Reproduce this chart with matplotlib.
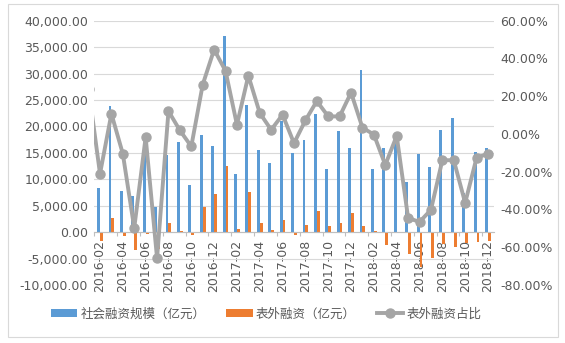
import numpy as np
import matplotlib
matplotlib.use("Agg")
import matplotlib.pyplot as plt
from matplotlib.patches import Rectangle
from matplotlib.ticker import FuncFormatter, FixedLocator

plt.rcParams['font.family'] = ['DejaVu Sans', 'Noto Sans CJK SC']

# 2016-01 only shows up as the clipped start of the ratio line
months = ["2016-01",
          "2016-02", "2016-03", "2016-04", "2016-05", "2016-06", "2016-07",
          "2016-08", "2016-09", "2016-10", "2016-11", "2016-12",
          "2017-01", "2017-02", "2017-03", "2017-04", "2017-05", "2017-06",
          "2017-07", "2017-08", "2017-09", "2017-10", "2017-11", "2017-12",
          "2018-01", "2018-02", "2018-03", "2018-04", "2018-05", "2018-06",
          "2018-07", "2018-08", "2018-09", "2018-10", "2018-11", "2018-12"]

tsf = [np.nan,
       8430, 23880, 7810, 6860, 16300, 4780,
       14610, 17070, 8940, 18390, 16310,
       37110, 11020, 24060, 15560, 13100, 21040,
       14930, 17450, 22360, 11970, 19150, 15940,
       30680, 11970, 15940, 16900, 9510, 14800,
       12340, 19340, 21610, 7370, 15120, 15940]

off_bs = [np.nan,
          -1590, 2700, -640, -3350, -280, -3150,
          1820, 300, -510, 4780, 7300,
          12590, 680, 7680, 1820, 490, 2380,
          -510, 1380, 4030, 1190, 1760, 3650,
          1190, 250, -2350, -170, -4050, -6600,
          -4800, -2200, -2720, -1970, -1780, -1590]

ratio = [24.0,
         -21.1, 10.7, -10.5, -49.8, -1.7, -65.8,
         12.1, 1.9, -6.6, 26.1, 44.7,
         33.4, 4.9, 30.9, 11.1, 2.2, 10.2,
         -4.9, 7.2, 17.4, 9.3, 9.3, 21.9,
         3.3, -0.3, -16.4, -1.0, -44.5, -46.6,
         -40.2, -13.9, -13.9, -36.5, -12.6, -10.5]

names = ["社会融资规模（亿元）", "表外融资（亿元）", "表外融资占比"]

BLUE = "#5B9BD5"
ORANGE = "#ED7D31"
GREY = "#A5A5A5"
TXT = "#595959"

fig = plt.figure(figsize=(5.65, 3.43), dpi=100)
fig.patches.append(Rectangle((0.0142, 0.0175), 0.9735, 0.9708, transform=fig.transFigure,
                             fill=False, edgecolor="#d9d9d9", linewidth=0.8))

ax = fig.add_axes([0.1669, 0.1691, 0.7069, 0.7706])
x = np.arange(len(months))
w = 0.25
b1 = ax.bar(x - w / 2, tsf, width=w, color=BLUE, zorder=2)
b2 = ax.bar(x + w / 2, off_bs, width=w, color=ORANGE, zorder=2)

ax.set_xlim(0.5, len(months) - 0.5)
ax.set_ylim(-10000, 40000)
ax.set_yticks(np.arange(-10000, 40001, 5000))
ax.yaxis.set_major_formatter(FuncFormatter(lambda v, p: f"{v:,.2f}"))
ax.grid(axis='y', color="#d9d9d9", linewidth=0.8, zorder=0)
ax.set_axisbelow(True)

for s in ["top", "right", "left"]:
    ax.spines[s].set_visible(False)
ax.spines["bottom"].set_position(("data", 0))
ax.spines["bottom"].set_color("#bfbfbf")
ax.spines["bottom"].set_linewidth(0.8)

ax.xaxis.set_major_locator(FixedLocator(x[1::2]))
ax.set_xticklabels(months[1::2], rotation=90)
ax.xaxis.set_minor_locator(FixedLocator(np.arange(0.5, len(months), 2)))
ax.tick_params(axis='x', which='major', length=0, pad=5.5, labelsize=9, labelcolor=TXT)
ax.tick_params(axis='x', which='minor', length=3, color="#bfbfbf", width=0.8)
ax.tick_params(axis='y', length=0, pad=4.5, labelsize=9, labelcolor=TXT)

ax2 = ax.twinx()
ln, = ax2.plot(x, ratio, color=GREY, linewidth=2.8, marker='o', markersize=6.5,
               zorder=3, solid_joinstyle='round')
ax2.set_ylim(-80, 60)
ax2.set_yticks(np.arange(-80, 61, 20))
ax2.yaxis.set_major_formatter(FuncFormatter(lambda v, p: f"{v:.2f}%"))
ax2.tick_params(axis='y', length=0, pad=4.5, labelsize=9, labelcolor=TXT)
for s in ax2.spines.values():
    s.set_visible(False)

fig.legend([b1, b2, ln], names, loc="center", bbox_to_anchor=(0.471, 0.0845),
           ncol=3, frameon=False, fontsize=9, labelcolor=TXT,
           handlelength=2.1, handleheight=0.55, handletextpad=0.25,
           columnspacing=1.7, prop={'family': ['Noto Sans CJK SC', 'DejaVu Sans'], 'size': 9})

fig.savefig("out.png", dpi=100)
